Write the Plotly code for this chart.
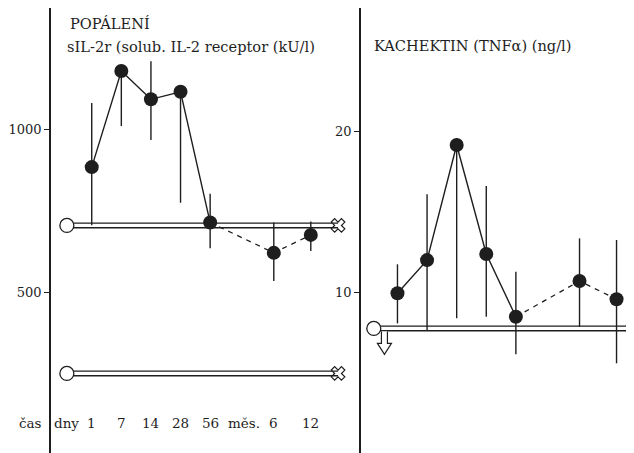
import plotly.graph_objects as go

# ---- data ----
time_pos = [0, 1, 2, 3, 4, 6.15, 7.4]
time_labels = ["1", "7", "14", "28", "56", "6", "12"]
unit_labels = ["dny", "měs."]
unit_pos = [-0.84, 5.15]

sil_vals = [884, 1179, 1092, 1115, 714, 621, 676]
sil_hi = [1081, 1179, 1209, 1115, 802, 714, 717]
sil_lo = [706, 1010, 967, 775, 635, 535, 627]

tnf_vals = [9.94, 12.0, 19.15, 12.38, 8.48, 10.70, 9.57]
tnf_hi = [11.74, 16.09, 19.15, 16.6, 11.28, 13.35, 13.25]
tnf_lo = [8.07, 7.61, 8.39, 8.48, 6.15, 7.86, 5.59]

sil_refs = [705, 251]      # reference-range pipes (left panel)
tnf_refs = [7.76]          # reference pipe (right panel)
pipe_x_left = [-0.84, 8.32]
pipe_x_right = [-0.80, 7.96]

FONT = "DejaVu Serif"
FS_TITLE = 14.6
FS_TICK = 13
INK = "#1e1e1e"

# page body has an 8px margin: figure pixel = reference pixel - 8
OFF = 8
W, H = 634 - OFF, 453 - OFF


def px(x):
    return (x - OFF) / W


def py(y):
    return 1 - (y - OFF) / H


fig = go.Figure()


def add_pipe(xs, yv, xa, ya):
    ys = [yv, yv]
    fig.add_trace(go.Scatter(x=xs, y=ys, mode="lines", xaxis=xa, yaxis=ya,
                             line=dict(color=INK, width=6), hoverinfo="skip",
                             cliponaxis=False))
    fig.add_trace(go.Scatter(x=xs, y=ys, mode="lines", xaxis=xa, yaxis=ya,
                             line=dict(color="white", width=3.2), hoverinfo="skip",
                             cliponaxis=False))
    fig.add_trace(go.Scatter(x=[xs[0]], y=[yv], mode="markers", xaxis=xa, yaxis=ya,
                             marker=dict(symbol="circle", size=14, color="white",
                                         line=dict(color=INK, width=1.3)),
                             hoverinfo="skip", cliponaxis=False))
    fig.add_trace(go.Scatter(x=[xs[1]], y=[yv], mode="markers", xaxis=xa, yaxis=ya,
                             marker=dict(symbol="x-open", size=12, color=INK,
                                         line=dict(color=INK, width=1.2)),
                             hoverinfo="skip", cliponaxis=False))


def add_series(vals, hi, lo, xa, ya):
    up = [h - v for h, v in zip(hi, vals)]
    dn = [v - l for v, l in zip(vals, lo)]
    fig.add_trace(go.Scatter(x=time_pos, y=vals, mode="markers", xaxis=xa, yaxis=ya,
                             marker=dict(size=1, color="rgba(0,0,0,0)"),
                             error_y=dict(type="data", symmetric=False, array=up,
                                          arrayminus=dn, width=0, thickness=1.4,
                                          color=INK),
                             hoverinfo="skip", cliponaxis=False))
    fig.add_trace(go.Scatter(x=time_pos[:5], y=vals[:5], mode="lines", xaxis=xa, yaxis=ya,
                             line=dict(color=INK, width=1.4), cliponaxis=False))
    fig.add_trace(go.Scatter(x=time_pos[4:], y=vals[4:], mode="lines", xaxis=xa, yaxis=ya,
                             line=dict(color=INK, width=1.3, dash="5px,5px"),
                             cliponaxis=False))
    fig.add_trace(go.Scatter(x=time_pos, y=vals, mode="markers", xaxis=xa, yaxis=ya,
                             marker=dict(size=14, color=INK), cliponaxis=False))


for r in sil_refs:
    add_pipe(pipe_x_left, r, "x", "y")
for r in tnf_refs:
    add_pipe(pipe_x_right, r, "x2", "y2")

add_series(sil_vals, sil_hi, sil_lo, "x", "y")
add_series(tnf_vals, tnf_hi, tnf_lo, "x2", "y2")

axis_common = dict(showgrid=False, zeroline=False)
tickfont = dict(family=FONT, size=FS_TICK, color=INK)
fig.update_layout(
    width=W, height=H,
    margin=dict(l=0, r=0, t=0, b=0),
    paper_bgcolor="white", plot_bgcolor="white",
    showlegend=False,
    font=dict(family=FONT, size=FS_TICK, color=INK),
    xaxis=dict(domain=[px(49), px(355)], range=[-1.380, 8.923], visible=False,
               anchor="y", **axis_common),
    yaxis=dict(domain=[0, 1], range=[7.0, 1372.1], anchor="x",
               tickvals=[500, 1000], ticks="outside", ticklen=5, tickwidth=1.2,
               tickcolor=INK, showline=True, linecolor=INK, linewidth=1.5,
               tickfont=tickfont, **axis_common),
    xaxis2=dict(domain=[px(360), 1.0], range=[-1.236, 7.99], visible=False,
                anchor="y2", **axis_common),
    yaxis2=dict(domain=[0, 1], range=[0.02, 27.66], anchor="x2",
                tickvals=[10, 20], ticks="outside", ticklen=5, tickwidth=1.2,
                tickcolor=INK, showline=True, linecolor=INK, linewidth=1.5,
                tickfont=tickfont, **axis_common),
)

ann = []


def label(text, x, y, size, xref="paper", xanchor="left"):
    ann.append(dict(text=text, xref=xref, yref="paper", x=x, y=y,
                    xanchor=xanchor, yanchor="middle", showarrow=False,
                    font=dict(family=FONT, size=size, color=INK)))


label("POPÁLENÍ", px(66), py(24), FS_TITLE)
label("sIL-2r (solub. IL-2 receptor (kU/l)", px(63), py(46), FS_TITLE)
label("KACHEKTIN (TNFα) (ng/l)", px(371.5), py(45), FS_TITLE)
label("čas", px(29), py(422.5), FS_TICK + 0.5, xanchor="center")
for p, t in zip(unit_pos, unit_labels):
    label(t, p, py(422.5), FS_TICK + 0.5, xref="x", xanchor="center")
for p, t in zip(time_pos, time_labels):
    label(t, p, py(422.5), FS_TICK + 0.5, xref="x", xanchor="center")
fig.update_layout(annotations=ann)

# open down-arrow under the right reference pipe
fig.add_shape(type="path", xref="x2", yref="y2", xsizemode="pixel", ysizemode="pixel",
              xanchor=-0.44, yanchor=tnf_refs[0],
              path="M -3,-3 L -3,-15 L -7,-15 L 0,-26 L 7,-15 L 3,-15 L 3,-3",
              line=dict(color=INK, width=1.2), fillcolor="white", layer="above")

fig.write_html("out.html")
